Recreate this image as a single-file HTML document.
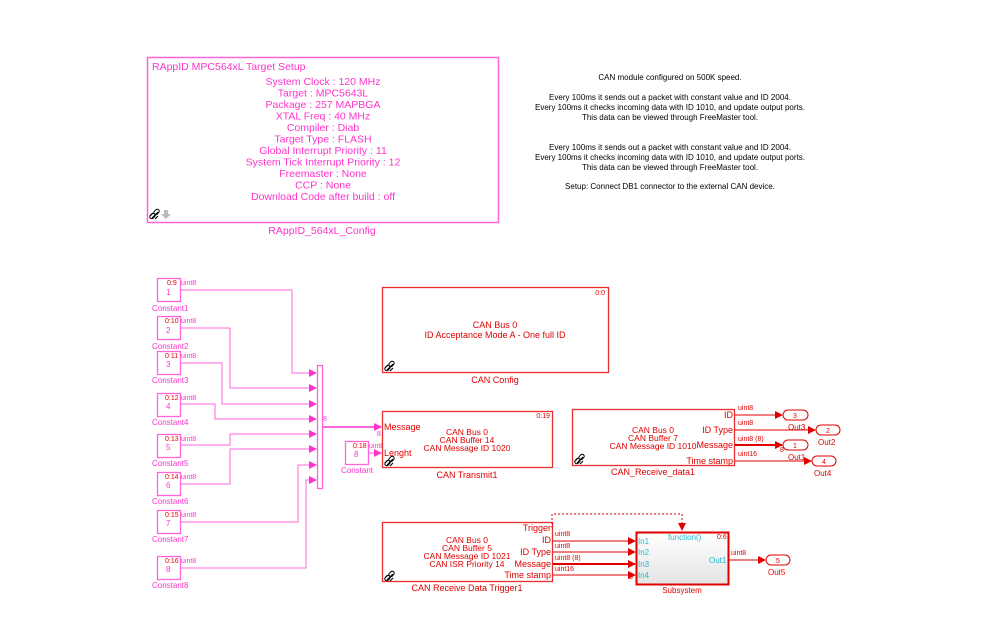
<!DOCTYPE html>
<html><head><meta charset="utf-8"><style>
html,body{margin:0;padding:0;background:#fff;}
svg{display:block;font-family:"Liberation Sans",Arial,sans-serif;}
</style></head><body>
<svg width="999" height="643" viewBox="0 0 999 643" xmlns="http://www.w3.org/2000/svg">
<defs>
<marker id="am" markerWidth="8" markerHeight="8" refX="7" refY="4" orient="auto" markerUnits="userSpaceOnUse"><path d="M0,0 L8,4 L0,8 z" fill="#ff33cc"/></marker>
<marker id="ar" markerWidth="8" markerHeight="8" refX="7" refY="4" orient="auto" markerUnits="userSpaceOnUse"><path d="M0,0 L8,4 L0,8 z" fill="#e00000"/></marker>
<linearGradient id="gs" x1="0" y1="0" x2="0" y2="1"><stop offset="0" stop-color="#ffffff"/><stop offset="1" stop-color="#e4e4e4"/></linearGradient>
<g id="lnk"><path d="M0,6 l3,-3 M2,8 l6,-6 M5,9 l3,-3" stroke="#000" stroke-width="1.1" fill="none"/><rect x="0.5" y="3" width="4" height="6" rx="2" transform="rotate(45 2.5 6)" fill="none" stroke="#000" stroke-width="1"/><rect x="4.5" y="-1" width="4" height="6" rx="2" transform="rotate(45 6.5 2)" fill="none" stroke="#000" stroke-width="1"/></g>
</defs>

<rect x="147.5" y="57.5" width="351" height="165" fill="#fff" stroke="#ff66dd" stroke-width="1.5"/>
<g fill="#ff33cc" font-size="10.5">
<text x="152" y="70">RAppID MPC564xL Target Setup</text>
<g text-anchor="middle">
<text x="323" y="85">System Clock : 120 MHz</text>
<text x="323" y="96.5">Target : MPC5643L</text>
<text x="323" y="108">Package : 257 MAPBGA</text>
<text x="323" y="119.5">XTAL Freq : 40 MHz</text>
<text x="323" y="131">Compiler : Diab</text>
<text x="323" y="142.5">Target Type : FLASH</text>
<text x="323" y="154">Global Interrupt Priority : 11</text>
<text x="323" y="165.5">System Tick Interrupt Priority : 12</text>
<text x="323" y="177">Freemaster : None</text>
<text x="323" y="188.5">CCP : None</text>
<text x="323" y="200">Download Code after build : off</text>
<text x="322" y="234">RAppID_564xL_Config</text>
</g></g>
<use href="#lnk" x="150" y="210"/>
<path d="M164,210 h4 v4 h3 l-5,5 l-5,-5 h3z" fill="#bbb"/>

<g font-size="8" text-anchor="middle" fill="#000">
<text x="670" y="80">CAN module configured on 500K speed.</text>
<text x="670" y="100" textLength="242">Every 100ms it sends out a packet with constant value and ID 2004.</text>
<text x="670" y="110" textLength="270">Every 100ms it checks incoming data with ID 1010, and update output ports.</text>
<text x="670" y="120">This data can be viewed through FreeMaster tool.</text>
<text x="670" y="150" textLength="242">Every 100ms it sends out a packet with constant value and ID 2004.</text>
<text x="670" y="160" textLength="270">Every 100ms it checks incoming data with ID 1010, and update output ports.</text>
<text x="670" y="170">This data can be viewed through FreeMaster tool.</text>
<text x="670" y="189">Setup: Connect DB1 connector to the external CAN device.</text>
</g>

<g stroke="#ff66dd" stroke-width="1.3" fill="#fff">
<rect x="157.5" y="278.5" width="23" height="23"/>
<rect x="157.5" y="316.5" width="23" height="23"/>
<rect x="157.5" y="351.5" width="23" height="23"/>
<rect x="157.5" y="393.5" width="23" height="23"/>
<rect x="157.5" y="434.5" width="23" height="23"/>
<rect x="157.5" y="472.5" width="23" height="23"/>
<rect x="157.5" y="510.5" width="23" height="23"/>
<rect x="157.5" y="556.5" width="23" height="23"/>
<rect x="345.5" y="441.5" width="23" height="23"/>
</g>
<g font-size="7" fill="#ff33cc">
<text x="167" y="285" fill="#e00">0:9</text><text x="181" y="285">uint8</text><text x="166" y="295" font-size="8">1</text><text x="152" y="311" font-size="8">Constant1</text>
<text x="165" y="323" fill="#e00">0:10</text><text x="181" y="323">uint8</text><text x="166" y="333" font-size="8">2</text><text x="152" y="349" font-size="8">Constant2</text>
<text x="165" y="358" fill="#e00">0:11</text><text x="181" y="358">uint8</text><text x="166" y="367" font-size="8">3</text><text x="152" y="383" font-size="8">Constant3</text>
<text x="165" y="400" fill="#e00">0:12</text><text x="181" y="400">uint8</text><text x="166" y="409" font-size="8">4</text><text x="152" y="425" font-size="8">Constant4</text>
<text x="165" y="441" fill="#e00">0:13</text><text x="181" y="441">uint8</text><text x="166" y="450" font-size="8">5</text><text x="152" y="466" font-size="8">Constant5</text>
<text x="165" y="479" fill="#e00">0:14</text><text x="181" y="479">uint8</text><text x="166" y="488" font-size="8">6</text><text x="152" y="504" font-size="8">Constant6</text>
<text x="165" y="517" fill="#e00">0:15</text><text x="181" y="517">uint8</text><text x="166" y="526" font-size="8">7</text><text x="152" y="542" font-size="8">Constant7</text>
<text x="165" y="563" fill="#e00">0:16</text><text x="181" y="563">uint8</text><text x="166" y="572" font-size="8">8</text><text x="152" y="588" font-size="8">Constant8</text>
<text x="353" y="448" fill="#e00">0:18</text><text x="369" y="448">uint8</text><text x="354" y="457" font-size="8">8</text><text x="341" y="473" font-size="8">Constant</text>
<text x="323" y="421">8</text><text x="377" y="436">8</text>
</g>

<g stroke="#ff66dd" stroke-width="1" fill="none" marker-end="url(#am)">
<path d="M181,290 H292 V373 H316"/>
<path d="M181,328 H230 V388 H316"/>
<path d="M181,363 H222 V404 H316"/>
<path d="M181,404 H215 V419 H316"/>
<path d="M181,445 H230 V434 H316"/>
<path d="M181,484 H230 V449 H316"/>
<path d="M181,522 H298 V465 H316"/>
<path d="M181,568 H306 V480 H316"/>
<path d="M369,453 H381"/>
<path d="M322,427 H381" stroke-width="2"/>
</g>
<rect x="317.5" y="365.5" width="5" height="123" fill="#fff" stroke="#ff66dd" stroke-width="1.3"/>

<rect x="382.5" y="287.5" width="226" height="85" fill="#fff" stroke="#e83030" stroke-width="1.3"/>
<g fill="#e00000" font-size="9" text-anchor="middle">
<text x="495" y="328">CAN Bus 0</text>
<text x="495" y="338">ID Acceptance Mode A - One full ID</text>
<text x="495" y="383">CAN Config</text>
<text x="605" y="295" text-anchor="end" font-size="7">0:0</text>
</g>
<use href="#lnk" x="385" y="362"/>

<rect x="382.5" y="411.5" width="170" height="56" fill="#fff" stroke="#e83030" stroke-width="1.3"/>
<g fill="#e00000" font-size="9">
<text x="384" y="430">Message</text><text x="384" y="456">Lenght</text>
<g text-anchor="middle" font-size="8.5"><text x="467" y="435">CAN Bus 0</text><text x="467" y="443">CAN Buffer 14</text><text x="467" y="451">CAN Message ID 1020</text>
<text x="467" y="478" font-size="9">CAN Transmit1</text></g>
<text x="550" y="418" text-anchor="end" font-size="7">0:19</text>
</g>
<use href="#lnk" x="385" y="457"/>

<rect x="572.5" y="409.5" width="162" height="56" fill="#fff" stroke="#e83030" stroke-width="1.3"/>
<g fill="#e00000" font-size="9">
<g text-anchor="end"><text x="733" y="418">ID</text><text x="733" y="433">ID Type</text><text x="733" y="448">Message</text><text x="733" y="464">Time stamp</text></g>
<g text-anchor="middle" font-size="8.5"><text x="653" y="433">CAN Bus 0</text><text x="653" y="441">CAN Buffer 7</text><text x="653" y="449">CAN Message ID 1010</text>
<text x="653" y="475" font-size="9">CAN_Receive_data1</text></g>
<g font-size="7"><text x="738" y="410">uint8</text><text x="738" y="425">uint8</text><text x="738" y="441">uint8 (8)</text><text x="738" y="456">uint16</text><text x="780" y="452">8</text></g>
<g font-size="8"><text x="788" y="430">Out3</text><text x="788" y="460">Out1</text><text x="818" y="445">Out2</text><text x="814" y="476">Out4</text></g>
</g>
<use href="#lnk" x="575" y="455"/>
<g stroke="#e00000" fill="none" marker-end="url(#ar)">
<path d="M735,415 H782"/><path d="M735,430 H815"/><path d="M735,445 H782" stroke-width="2"/><path d="M735,461 H811"/>
</g>
<g stroke="#e00000" fill="#fff" stroke-width="1">
<rect x="783" y="410" width="25" height="10" rx="5"/><rect x="816" y="425" width="24" height="10" rx="5"/>
<rect x="783" y="440" width="25" height="10" rx="5"/><rect x="812" y="456" width="24" height="10" rx="5"/>
<rect x="766" y="555" width="24" height="10" rx="5"/>
</g>
<g fill="#e00000" font-size="7" text-anchor="middle">
<text x="795" y="418">3</text><text x="828" y="433">2</text><text x="795" y="448">1</text><text x="824" y="464">4</text><text x="778" y="563">5</text>
</g>

<rect x="382.5" y="522.5" width="170" height="59" fill="#fff" stroke="#e83030" stroke-width="1.3"/>
<g fill="#e00000" font-size="9">
<g text-anchor="end"><text x="551" y="531">Trigger</text><text x="551" y="543">ID</text><text x="551" y="555">ID Type</text><text x="551" y="567">Message</text><text x="551" y="578">Time stamp</text></g>
<g text-anchor="middle" font-size="8.5"><text x="467" y="543">CAN Bus 0</text><text x="467" y="551">CAN Buffer 5</text><text x="467" y="559">CAN Message ID 1021</text><text x="467" y="567">CAN ISR Priority 14</text>
<text x="467" y="591" font-size="9">CAN Receive Data Trigger1</text></g>
<g font-size="7"><text x="555" y="536">uint8</text><text x="555" y="548">uint8</text><text x="555" y="560">uint8 (8)</text><text x="555" y="571">uint16</text><text x="629" y="579">8</text></g>
</g>
<use href="#lnk" x="385" y="572"/>
<path d="M552,528 V514 H682 V530" stroke="#e00000" stroke-dasharray="2,2" fill="none" marker-end="url(#ar)"/>
<g stroke="#e00000" fill="none" marker-end="url(#ar)">
<path d="M553,541 H635"/><path d="M553,552 H635"/><path d="M553,564 H635" stroke-width="2"/><path d="M553,575 H635"/>
<path d="M729,560 H765"/>
</g>

<rect x="636.5" y="532.5" width="92" height="52" fill="url(#gs)" stroke="#e00000" stroke-width="2"/>
<g fill="#22bbcc" font-size="8">
<text x="638" y="544">In1</text><text x="638" y="555">In2</text><text x="638" y="567">In3</text><text x="638" y="578">In4</text>
<text x="668" y="540">function()</text><text x="709" y="563">Out1</text>
</g>
<g fill="#e00000" font-size="7"><text x="717" y="539">0:6</text><text x="731" y="555">uint8</text></g>
<g fill="#e00000" font-size="8"><text x="682" y="593" text-anchor="middle">Subsystem</text><text x="768" y="575">Out5</text></g>
</svg>
</body></html>
